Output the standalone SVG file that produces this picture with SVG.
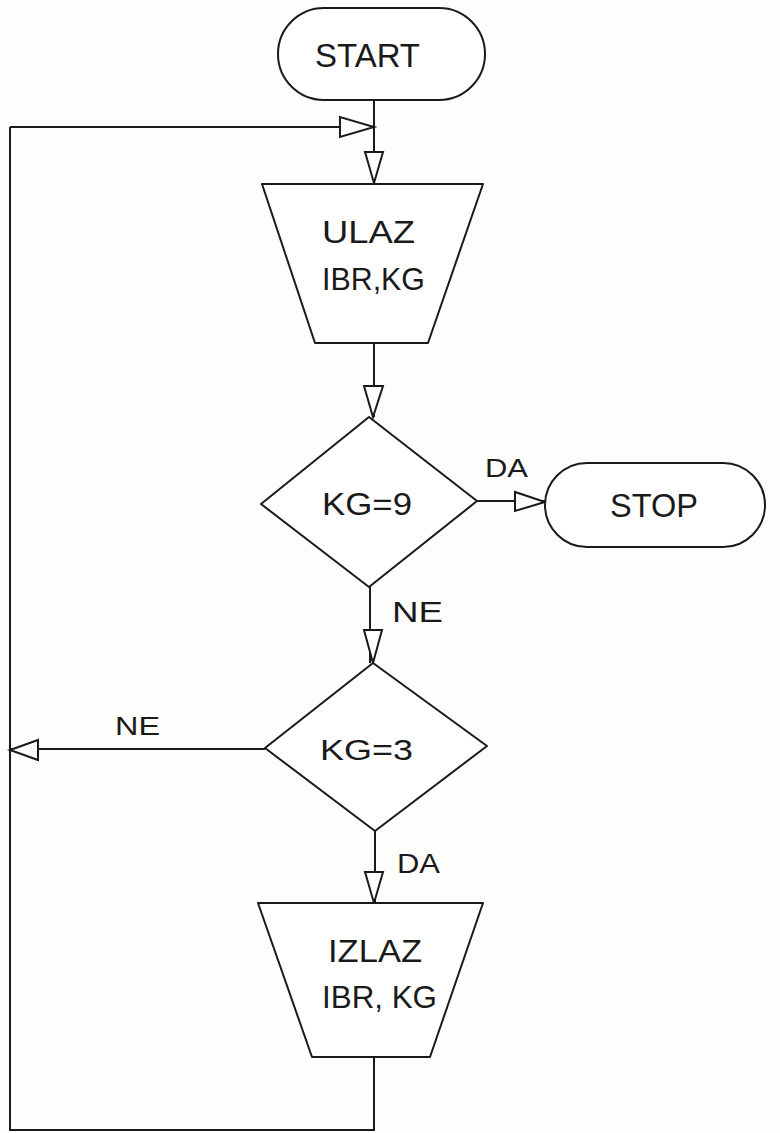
<svg xmlns="http://www.w3.org/2000/svg" width="780" height="1133" viewBox="0 0 780 1133">
<style>
.s{fill:#fff;stroke:#1a1a1a;stroke-width:2;stroke-linejoin:round}
.l{fill:none;stroke:#1a1a1a;stroke-width:2}
.a{fill:#fff;stroke:#1a1a1a;stroke-width:2;stroke-linejoin:miter}
text{font-family:"Liberation Sans",Arial,sans-serif;fill:#1a1a1a}
</style>
<rect width="780" height="1133" fill="#fdfdfb"/>
<g id="connectors">
<path class="l" d="M374,100 V183"/>
<path class="l" d="M10,127 H374"/>
<polygon class="a" points="340,117 340,137 374,127"/>
<polygon class="a" points="365,152 383,152 374,183"/>
<path class="l" d="M374,343 V417"/>
<polygon class="a" points="364,386 383,386 373,417"/>
<path class="l" d="M477,501 H545"/>
<polygon class="a" points="515,492 515,511 545,502"/>
<path class="l" d="M370,587 V663"/>
<polygon class="a" points="364,630 382,630 373,663"/>
<path class="l" d="M265,749 H10"/>
<polygon class="a" points="38,740 38,760 10,750"/>
<path class="l" d="M375,831 V903"/>
<polygon class="a" points="365,872 383,872 374,903"/>
<path class="l" d="M374,1057 V1130 H10 V127"/>
<text x="485" y="477" font-size="26" textLength="43" lengthAdjust="spacingAndGlyphs">DA</text>
<text x="392" y="622" font-size="30" textLength="51" lengthAdjust="spacingAndGlyphs">NE</text>
<text x="115" y="735" font-size="25" textLength="45" lengthAdjust="spacingAndGlyphs">NE</text>
<text x="397" y="873" font-size="28" textLength="43" lengthAdjust="spacingAndGlyphs">DA</text>
</g>
<g id="start">
<rect class="s" x="278" y="8" width="207" height="92" rx="46" ry="46"/>
<text x="315" y="67" font-size="34" textLength="105" lengthAdjust="spacingAndGlyphs">START</text>
</g>
<g id="ulaz">
<polygon class="s" points="262,184 483,184 428,343 315,343"/>
<text x="322" y="243" font-size="32" textLength="93" lengthAdjust="spacingAndGlyphs">ULAZ</text>
<text x="322" y="290" font-size="32" textLength="103" lengthAdjust="spacingAndGlyphs">IBR,KG</text>
</g>
<g id="kg9">
<polygon class="s" points="369,417 477,501 369,587 261,504"/>
<text x="322" y="515" font-size="32" textLength="90" lengthAdjust="spacingAndGlyphs">KG=9</text>
</g>
<g id="stop">
<rect class="s" x="545" y="463" width="220" height="84" rx="42" ry="42"/>
<text x="610" y="517" font-size="33" textLength="88" lengthAdjust="spacingAndGlyphs">STOP</text>
</g>
<g id="kg3">
<polygon class="s" points="373,663 487,746 375,831 265,748"/>
<text x="320" y="760" font-size="30" textLength="93" lengthAdjust="spacingAndGlyphs">KG=3</text>
</g>
<g id="izlaz">
<polygon class="s" points="258,903 483,903 430,1057 312,1057"/>
<text x="328" y="962" font-size="32" textLength="94" lengthAdjust="spacingAndGlyphs">IZLAZ</text>
<text x="322" y="1008" font-size="32" textLength="115" lengthAdjust="spacingAndGlyphs">IBR, KG</text>
</g>
</svg>
